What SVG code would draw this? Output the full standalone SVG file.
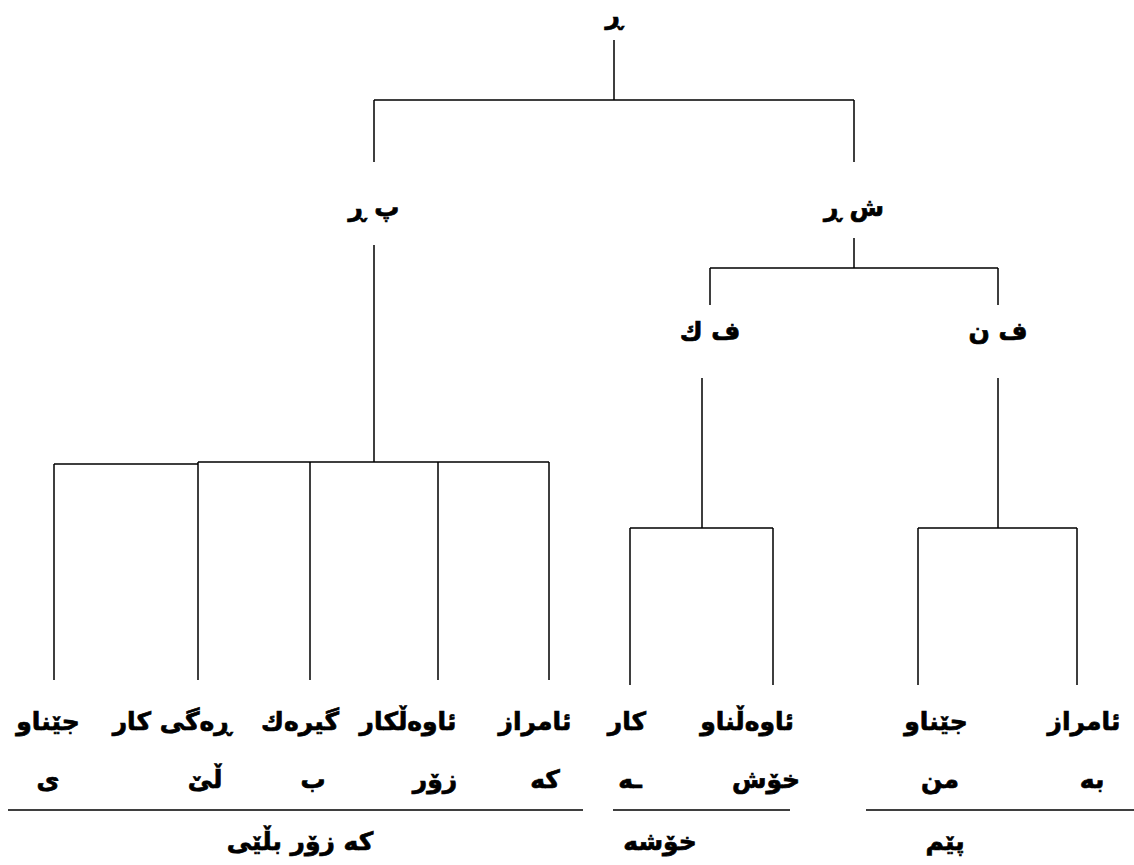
<svg xmlns="http://www.w3.org/2000/svg" width="1134" height="865" viewBox="0 0 1134 865">
<style>
.t{font-family:"DejaVu Sans","Noto Sans",sans-serif;font-weight:bold;font-size:25px;fill:#000;stroke:#000;stroke-width:0.7;text-anchor:middle}
.l{stroke:#000;stroke-width:1.5;fill:none}
</style>
<rect width="1134" height="865" fill="#fff"/>
<g id="connectors" class="l">
<path d="M614 40V100M374 100H854M374 100V162M854 100V162"/>
<path d="M854 238V268M710 268H998M710 268V305M998 268V305"/>
<path d="M702 378V528M630 528H773M630 528V685M773 528V685"/>
<path d="M998 378V528M918 528H1077M918 528V685M1077 528V685"/>
<path d="M374 245V462M54 464H198M198 462H549M54 464V680M198 462V680M310 462V680M438 462V680M549 462V680"/>
<path d="M8 810H583M613 810H790M866 810H1134"/>
</g>
<g id="n-root"><text class="t" x="614" y="24">ڕ</text></g>
<g id="n-pr"><text class="t" x="374" y="216">پ ڕ</text></g>
<g id="n-shr"><text class="t" x="854" y="216">ش ڕ</text></g>
<g id="n-fk"><text class="t" x="710" y="340">ف ك</text></g>
<g id="n-fn"><text class="t" x="998" y="340">ف ن</text></g>
<g id="w1"><text class="t" x="48" y="730">جێناو</text><text class="t" x="48" y="788">ی</text></g>
<g id="w2"><text class="t" x="172" y="730">ڕەگی کار</text><text class="t" x="205" y="788">ڵێ</text></g>
<g id="w3"><text class="t" x="300" y="730">گیرەك</text><text class="t" x="313" y="788">ب</text></g>
<g id="w4"><text class="t" x="408" y="730">ئاوەڵكار</text><text class="t" x="435" y="788">زۆر</text></g>
<g id="w5"><text class="t" x="535" y="730">ئامراز</text><text class="t" x="545" y="788">كه</text></g>
<g id="w6"><text class="t" x="627" y="730">کار</text><text class="t" x="630" y="788">ـه</text></g>
<g id="w7"><text class="t" x="747" y="730">ئاوەڵناو</text><text class="t" x="766" y="788">خۆش</text></g>
<g id="w8"><text class="t" x="936" y="730">جێناو</text><text class="t" x="940" y="788">من</text></g>
<g id="w9"><text class="t" x="1084" y="730">ئامراز</text><text class="t" x="1092" y="788">به</text></g>
<g id="s1"><text class="t" x="300" y="850">كه زۆر بڵێی</text></g>
<g id="s2"><text class="t" x="660" y="850">خۆشه</text></g>
<g id="s3"><text class="t" x="945" y="850">پێم</text></g>
</svg>
